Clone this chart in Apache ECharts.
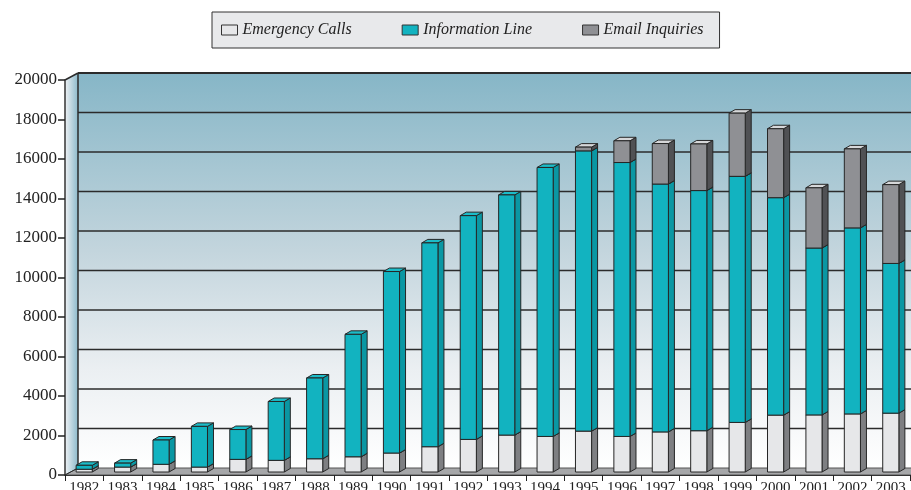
<!DOCTYPE html>
<html>
<head>
<meta charset="utf-8">
<script src="https://cdn.jsdelivr.net/npm/echarts@6/dist/echarts.min.js"></script>
<style>
  html, body { margin: 0; padding: 0; background: #fff; }
  #chart { width: 911px; height: 490px; }
</style>
</head>
<body>
<div id="chart"></div>
<script>
const years = ['1982', '1983', '1984', '1985', '1986', '1987', '1988', '1989', '1990', '1991', '1992',
  '1993', '1994', '1995', '1996', '1997', '1998', '1999', '2000', '2001', '2002', '2003'];
const emergencyCalls = [140, 250, 390, 250, 640, 590, 670, 770, 960, 1280, 1650,
  1870, 1800, 2070, 1800, 2030, 2090, 2510, 2880, 2890, 2940, 2980];
const informationLine = [200, 200, 1230, 2060, 1510, 2980, 4090, 6200, 9190, 10320, 11330,
  12160, 13620, 14190, 13870, 12550, 12160, 12460, 11010, 8450, 9420, 7580];
const emailInquiries = [0, 0, 0, 0, 0, 0, 0, 0, 0, 0, 0,
  0, 0, 190, 1100, 2050, 2360, 3200, 3490, 3050, 4000, 3990];

const seriesNames = ['Emergency Calls', 'Information Line', 'Email Inquiries'];

// face colours: front, side, top
const palette = [
  { front: '#e6e7e9', side: '#7e7f82', top: '#eeeff0' },
  { front: '#12b3c0', side: '#0a97a3', top: '#1cbcc8' },
  { front: '#8f9094', side: '#505154', top: '#d6d7d9' }
];

// wall depth and bar depth (oblique projection)
const WALL_DX = 13, WALL_DY = -7;
const BAR_DX = 6, BAR_DY = -3.5, BAR_OY = -3;
const EDGE = '#262626';

const chart = echarts.init(document.getElementById('chart'), null, { renderer: 'canvas' });

// stack the three series
function stacked(values, below) {
  return values.map((v, i) => {
    const base = below.reduce((s, arr) => s + arr[i], 0);
    return [i, base, base + v];
  });
}
const stackData = [
  stacked(emergencyCalls, []),
  stacked(informationLine, [emergencyCalls]),
  stacked(emailInquiries, [emergencyCalls, informationLine])
];

function barRenderer(colors) {
  return function (params, api) {
    const idx = api.value(0);
    const lo = api.value(1), hi = api.value(2);
    if (hi - lo <= 0) return null;
    const pLo = api.coord([idx, lo]);
    const pHi = api.coord([idx, hi]);
    const bw = api.size([1, 0])[0] * 0.42;
    const x0 = pLo[0] - bw / 2, x1 = pLo[0] + bw / 2;
    const yb = pLo[1] + BAR_OY, yt = pHi[1] + BAR_OY;
    const line = { stroke: EDGE, lineWidth: 1 };
    return {
      type: 'group',
      children: [
        {
          type: 'polygon',
          shape: { points: [[x1, yt], [x1 + BAR_DX, yt + BAR_DY], [x1 + BAR_DX, yb + BAR_DY], [x1, yb]] },
          style: Object.assign({ fill: colors.side }, line)
        },
        {
          type: 'polygon',
          shape: { points: [[x0, yt], [x0 + BAR_DX, yt + BAR_DY], [x1 + BAR_DX, yt + BAR_DY], [x1, yt]] },
          style: Object.assign({ fill: colors.top }, line)
        },
        {
          type: 'rect',
          shape: { x: x0, y: yt, width: bw, height: yb - yt },
          style: Object.assign({ fill: colors.front }, line)
        }
      ]
    };
  };
}

function wallRenderer(params, api) {
  const cs = params.coordSys;
  const left = cs.x, right = cs.x + cs.width;
  const y0 = api.coord([0, 0])[1];
  const yTop = api.coord([0, 20000])[1];
  const children = [];
  // back wall
  children.push({
    type: 'rect',
    shape: { x: left + WALL_DX, y: yTop + WALL_DY, width: cs.width + 20, height: y0 - yTop },
    style: {
      fill: new echarts.graphic.LinearGradient(0, 0, 0, 1, [
        { offset: 0, color: '#86b6c7' },
        { offset: 0.45, color: '#c3d5dd' },
        { offset: 0.75, color: '#ebeff2' },
        { offset: 1, color: '#ffffff' }
      ])
    }
  });
  // left wall
  children.push({
    type: 'polygon',
    shape: { points: [[left, yTop], [left + WALL_DX, yTop + WALL_DY], [left + WALL_DX, y0 + WALL_DY], [left, y0]] },
    style: {
      fill: new echarts.graphic.LinearGradient(0, 0, 1, 0, [
        { offset: 0, color: '#eef1f4' },
        { offset: 1, color: '#8dbacb' }
      ])
    }
  });
  // floor
  children.push({
    type: 'polygon',
    shape: { points: [[left, y0], [left + WALL_DX, y0 + WALL_DY], [right + WALL_DX + 20, y0 + WALL_DY], [right + 20, y0]] },
    style: { fill: '#a6a7a9', stroke: '#555', lineWidth: 1 }
  });
  // gridlines on the back wall
  for (let v = 2000; v <= 20000; v += 2000) {
    const y = api.coord([0, v])[1] + WALL_DY;
    children.push({
      type: 'line',
      shape: { x1: left + WALL_DX, y1: y, x2: right + WALL_DX + 20, y2: y },
      style: { stroke: '#2b2b2b', lineWidth: v === 20000 ? 2 : 1.5 }
    });
  }
  // corner edges
  children.push({
    type: 'line',
    shape: { x1: left, y1: yTop, x2: left + WALL_DX, y2: yTop + WALL_DY },
    style: { stroke: '#2b2b2b', lineWidth: 1.5 }
  });
  children.push({
    type: 'line',
    shape: { x1: left, y1: y0, x2: left + WALL_DX, y2: y0 + WALL_DY },
    style: { stroke: '#2b2b2b', lineWidth: 1 }
  });
  children.push({
    type: 'line',
    shape: { x1: left + WALL_DX, y1: yTop + WALL_DY, x2: left + WALL_DX, y2: y0 + WALL_DY },
    style: { stroke: '#2b2b2b', lineWidth: 1.5 }
  });
  return { type: 'group', children: children };
}

const option = {
  animation: false,
  legend: {
    left: 212,
    top: 12,
    padding: [10, 16, 10, 9],
    itemGap: 50,
    itemWidth: 16,
    itemHeight: 10,
    backgroundColor: '#e8e9eb',
    borderColor: '#333',
    borderWidth: 1,
    borderRadius: 0,
    selectedMode: false,
    textStyle: { fontFamily: 'Liberation Serif', fontStyle: 'italic', fontSize: 16, color: '#222' },
    data: seriesNames.map((name, i) => ({
      name: name,
      icon: 'rect',
      itemStyle: { color: palette[i].front, borderColor: '#333', borderWidth: 1 }
    }))
  },
  grid: { left: 65, right: 1, top: 80, bottom: 15, outerBoundsMode: 'none', containLabel: false },
  xAxis: {
    type: 'category',
    data: years,
    boundaryGap: true,
    axisLine: { show: true, lineStyle: { color: '#333', width: 1 } },
    axisTick: { show: true, length: 6, lineStyle: { color: '#222' } },
    axisLabel: { interval: 0, margin: 6, fontFamily: 'Liberation Serif', fontSize: 15, color: '#222' },
    z: 5
  },
  yAxis: {
    type: 'value',
    min: 0,
    max: 20000,
    interval: 2000,
    axisLine: { show: true, lineStyle: { color: '#333', width: 1.5 } },
    axisTick: { show: true, length: 7, lineStyle: { color: '#222', width: 1.5 } },
    axisLabel: {
      margin: 8,
      fontFamily: 'Liberation Serif',
      fontSize: 17,
      color: '#222',
      formatter: (v) => String(v)
    },
    splitLine: { show: false },
    z: 5
  },
  series: [
    {
      type: 'custom',
      name: 'walls',
      silent: true,
      z: 0,
      clip: false,
      renderItem: wallRenderer,
      encode: { x: 0, y: 1 },
      data: [[0, 0]]
    }
  ].concat(seriesNames.map((name, i) => ({
    type: 'custom',
    name: name,
    z: 2 + i,
    clip: false,
    itemStyle: { color: palette[i].front },
    renderItem: barRenderer(palette[i]),
    encode: { x: 0, y: [1, 2] },
    data: stackData[i]
  })))
};

chart.setOption(option);
</script>
</body>
</html>
